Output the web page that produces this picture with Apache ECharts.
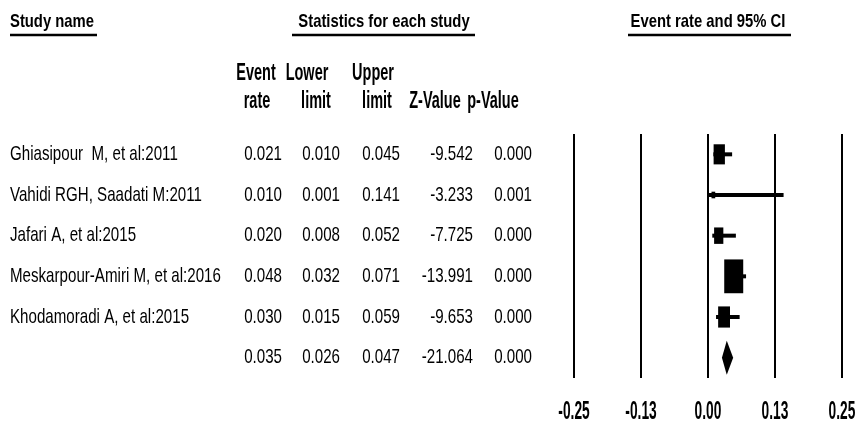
<!DOCTYPE html>
<html><head><meta charset="utf-8">
<script src="https://cdn.jsdelivr.net/npm/echarts@6/dist/echarts.min.js"></script>
<style>html,body{margin:0;padding:0;background:#fff}#c{width:855px;height:428px}</style>
</head><body><div id="c"></div>
<script>
// ---- data ----
const studies    = ["Ghiasipour  M, et al:2011", "Vahidi RGH, Saadati M:2011", "Jafari A, et al:2015", "Meskarpour-Amiri M, et al:2016", "Khodamoradi A, et al:2015", ""];
const eventRate  = [0.021, 0.010, 0.020, 0.048, 0.030, 0.035];
const lowerLimit = [0.010, 0.001, 0.008, 0.032, 0.015, 0.026];
const upperLimit = [0.045, 0.141, 0.052, 0.071, 0.059, 0.047];
const zValue     = ["-9.542", "-3.233", "-7.725", "-13.991", "-9.653", "-21.064"];
const pValue     = ["0.000", "0.001", "0.000", "0.000", "0.000", "0.000"];
const relWeight  = [17.5, 1.9, 11.7, 49.5, 19.4, null];
const summaryIndex = 5;
const tickValues = [-0.25, -0.125, 0, 0.125, 0.25];
const tickLabels = ["-0.25", "-0.13", "0.00", "0.13", "0.25"];
const headerLine1 = ["Event", "Lower", "Upper", "", ""];
const headerLine2 = ["rate", "limit", "limit", "Z-Value", "p-Value"];

// ---- layout ----
const FONT = "'Liberation Sans',Arial,sans-serif";
const bodyFont = "21px " + FONT, bodyScale = 0.72;
const colHeadFont = "bold 23px " + FONT, colHeadScale = 0.63;
const topHeadFont = "bold 19px " + FONT, topHeadScale = 0.78;
const tickFont = "bold 25px " + FONT, tickScale = 0.55;
const nameX = 10;
const valueRightX = [282, 340, 400, 473, 532];
const headerCX1 = [256, 307, 373, 0, 0];
const headerCX2 = [257, 316, 377, 435, 493];

const chart = echarts.init(document.getElementById('c'), null, {renderer: 'canvas'});

function txt(t, x, y, font, scale, align) {
  return {type: 'text', x, y, scaleX: scale, scaleY: 1,
    style: {text: t, font, fill: '#000', align: align || 'center', verticalAlign: 'middle'}};
}

const tableData = studies.map((s, i) => [0, i]);
const forestData = studies.map((s, i) => [eventRate[i], lowerLimit[i], upperLimit[i], i]);
const tickData = tickValues.map(v => [v, 5.5]);

function tableItem(params, api) {
  const i = params.dataIndex;
  const y = api.coord([0, api.value(1)])[1];
  const vals = [eventRate[i].toFixed(3), lowerLimit[i].toFixed(3), upperLimit[i].toFixed(3), zValue[i], pValue[i]];
  const children = [txt(studies[i], nameX, y, bodyFont, bodyScale, 'left')];
  vals.forEach((v, k) => children.push(txt(v, valueRightX[k], y, bodyFont, bodyScale, 'right')));
  return {type: 'group', children};
}

function forestItem(params, api) {
  const i = api.value(3);
  const y = api.coord([0, i])[1];
  const xr = api.coord([api.value(0), i])[0];
  const xl = api.coord([api.value(1), i])[0];
  const xu = api.coord([api.value(2), i])[0];
  if (i === summaryIndex) {
    return {type: 'polygon', shape: {points: [[xl, y], [xr, y - 17], [xu, y], [xr, y + 17]]}, style: {fill: '#000'}};
  }
  const w = 2.7 * Math.sqrt(relWeight[i]);
  const h = w * 1.78;
  return {type: 'group', children: [
    {type: 'line', shape: {x1: xl, y1: y, x2: xu, y2: y}, style: {stroke: '#000', lineWidth: 4}},
    {type: 'rect', shape: {x: xr - w / 2, y: y - h / 2, width: w, height: h}, style: {fill: '#000'}}
  ]};
}

function tickItem(params, api) {
  const p = api.coord([api.value(0), api.value(1)]);
  return txt(tickLabels[params.dataIndex], p[0], p[1] + 34.5, tickFont, tickScale, 'center');
}

const graphics = [];
function underline(x1, x2, y) {
  graphics.push({type: 'line', shape: {x1, y1: y, x2, y2: y}, style: {stroke: '#000', lineWidth: 2.5}});
}
graphics.push(txt("Study name", 10, 22, topHeadFont, topHeadScale, 'left'));
underline(10, 97, 35);
graphics.push(txt("Statistics for each study", 384, 22, topHeadFont, topHeadScale));
underline(292, 475, 35);
graphics.push(txt("Event rate and 95% CI", 708, 22, topHeadFont, topHeadScale));
underline(628, 791, 35);
headerLine1.forEach((t, k) => { if (t) graphics.push(txt(t, headerCX1[k], 74, colHeadFont, colHeadScale)); });
headerLine2.forEach((t, k) => { if (t) graphics.push(txt(t, headerCX2[k], 102, colHeadFont, colHeadScale)); });

chart.setOption({
  animation: false,
  backgroundColor: '#fff',
  grid: {left: 574, right: 13, top: 134, bottom: 50, containLabel: false, outerBoundsMode: 'none'},
  xAxis: {
    type: 'value', min: -0.25, max: 0.25, interval: 0.125,
    axisLine: {show: false}, axisTick: {show: false}, axisLabel: {show: false},
    splitLine: {show: true, showMinLine: true, showMaxLine: true, lineStyle: {color: '#000', width: 2}}
  },
  yAxis: {type: 'value', inverse: true, min: -0.5, max: 5.5, show: false, splitLine: {show: false}},
  graphic: graphics,
  series: [
    {type: 'custom', renderItem: tableItem, data: tableData, encode: {x: 0, y: 1}, clip: false, silent: true},
    {type: 'custom', renderItem: forestItem, data: forestData, encode: {x: [0, 1, 2], y: 3}, clip: false, silent: true},
    {type: 'custom', renderItem: tickItem, data: tickData, encode: {x: 0, y: 1}, clip: false, silent: true}
  ]
});
</script>
</body></html>
